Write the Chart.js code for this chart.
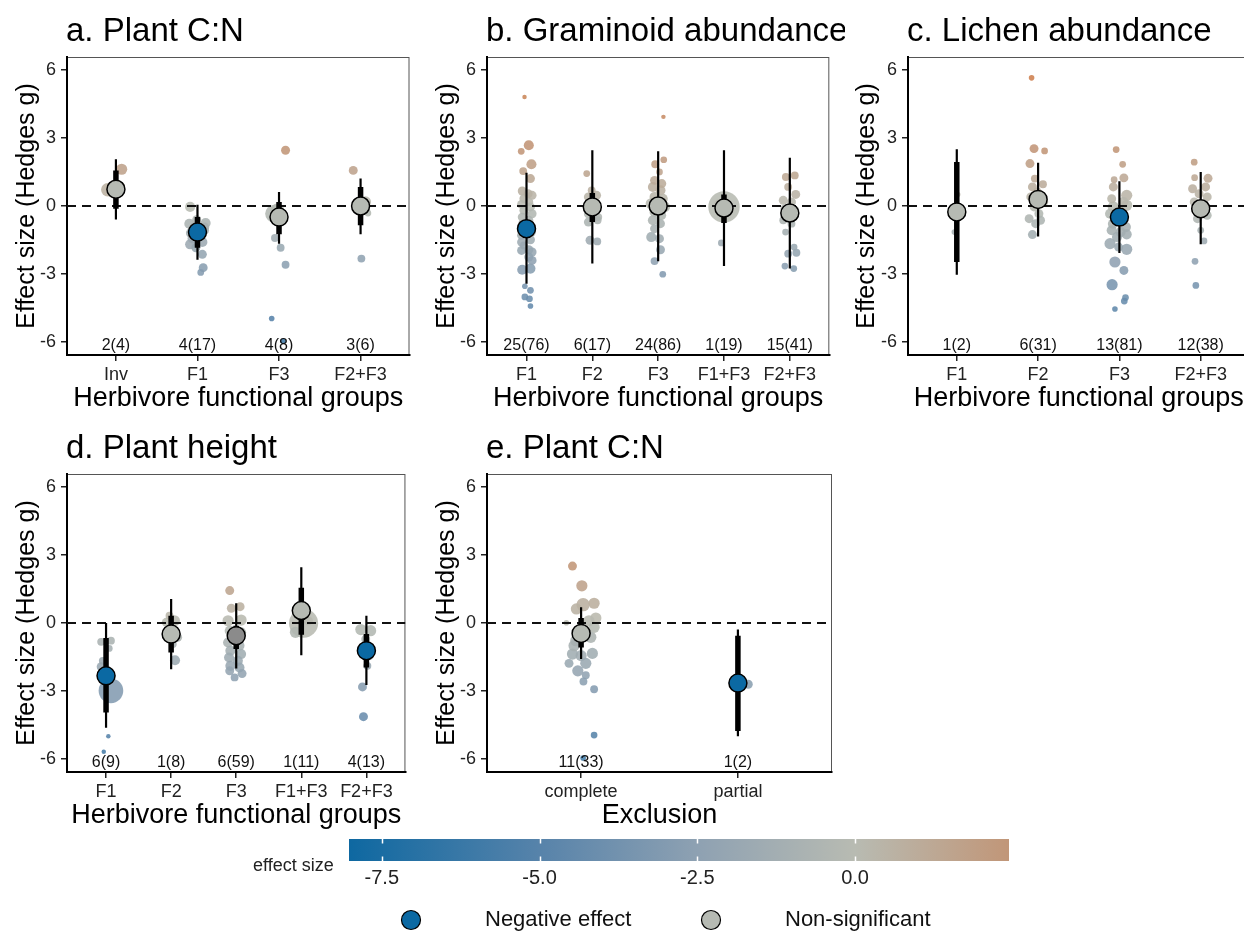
<!DOCTYPE html>
<html><head><meta charset="utf-8">
<script src="https://cdn.jsdelivr.net/npm/chart.js@4.4.1/dist/chart.umd.min.js"></script>
<style>
html,body{margin:0;padding:0;background:#fff;}
#wrap{position:relative;width:1244px;height:936px;overflow:hidden;background:#fff;}
#wrap canvas{position:absolute;}
</style></head><body>
<div id="wrap">
<canvas id="pa" width="420" height="415" style="left:0;top:0"></canvas>
<canvas id="pb" width="425" height="415" style="left:420px;top:0"></canvas>
<canvas id="pc" width="420" height="415" style="left:840px;top:0"></canvas>
<canvas id="pd" width="420" height="417" style="left:0;top:415px"></canvas>
<canvas id="pe" width="425" height="417" style="left:420px;top:415px"></canvas>
<canvas id="cbar" width="800" height="111" style="left:240px;top:825px"></canvas>
</div>
<script>
// ---------- shared ----------
const yTicks = [-6, -3, 0, 3, 6];
const yRange = [-6.57, 6.57];
const yTitle = 'Effect size (Hedges g)';
const xTitleHerb = 'Herbivore functional groups';

// ---------- a. Plant C:N ----------
const aTitle = 'a. Plant C:N';
const aCats = ['Inv', 'F1', 'F3', 'F2+F3'];
const aK = ['2(4)', '4(17)', '4(8)', '3(6)'];
const aMean = [0.74, -1.15, -0.49, 0.0];
const aCI = [[-0.12, 1.57], [-1.84, -0.49], [-1.25, 0.18], [-0.85, 0.84]];
const aPI = [[-0.60, 2.06], [-2.37, 0.06], [-1.66, 0.62], [-1.25, 1.21]];
const aSig = ['ns', 'neg', 'ns', 'ns'];
const aES = [
  [1.62, 0.72, 0.62, 0.84],
  [-0.04, -0.78, -0.75, -0.60, -1.19, -1.07, -1.37, -1.43, -1.69, -1.59, -1.84, -2.13, -2.72, -2.93, -0.93, -0.93],
  [-0.34, -0.19, 2.46, -1.41, -1.84, -2.59, -4.96, -5.96],
  [1.57, 0.18, -0.31, -2.32, -0.04, -0.19]
];
const aPrec = [
  [5, 6, 5, 5],
  [4.5, 4.5, 4.5, 4, 4.5, 4.5, 4, 4.5, 4.5, 4.5, 4, 4, 4, 3, 4, 4],
  [8, 6, 4, 3.5, 3.5, 3.5, 2.5, 2.5],
  [4, 5, 3, 3.5, 4, 4]
];
const aJit = [
  [0.07, -0.10, -0.04, 0.045],
  [-0.09, -0.10, 0.10, -0.01, -0.08, 0.08, 0.02, -0.06, -0.09, 0.06, -0.02, 0.06, 0.07, 0.04, -0.04, 0.09],
  [-0.06, -0.02, 0.08, -0.05, 0.02, 0.08, -0.09, 0.05],
  [-0.09, 0.06, 0.09, 0.01, -0.04, 0.03]
];

// ---------- b. Graminoid abundance ----------
const bTitle = 'b. Graminoid abundance';
const bCats = ['F1', 'F2', 'F3', 'F1+F3', 'F2+F3'];
const bK = ['25(76)', '6(17)', '24(86)', '1(19)', '15(41)'];
const bMean = [-1.0, -0.04, 0.0, -0.09, -0.31];
const bCI = [[-1.3, -0.7], [-0.71, 0.57], [-0.3, 0.3], [-0.75, 0.51], [-0.6, 0.0]];
const bPI = [[-3.43, 1.47], [-2.54, 2.46], [-2.44, 2.41], [-2.65, 2.46], [-2.76, 2.13]];
const bSig = ['neg', 'ns', 'ns', 'ns', 'ns'];
const bES = [
  [4.81, 2.68, 2.41, 1.84, 1.54, 1.21, 0.66, 0.47, 0.32, 0.18, 0.07, -0.04, -0.19, -0.34, -0.49, -0.63, -1.29, -1.49, -1.59, -1.93, -1.96, -2.03, -2.25, -2.40, -2.81, -2.76, -3.54, -3.72, -4.01, -4.09, -4.41, -1.74, -1.15, -0.78, 0.54],
  [1.43, 0.69, 0.40, 0.47, 0.10, -0.34, -0.49, -0.71, -0.63, -1.51, -1.56],
  [3.93, 2.04, 1.84, 1.50, 1.13, 0.99, 0.84, 0.69, 0.40, 0.32, 0.10, -0.04, -0.26, -0.41, -0.63, -0.78, -1.00, -1.37, -1.44, -1.93, -2.43, -3.01, 0.18],
  [-0.04, -1.63, 0.10, -0.19],
  [1.28, 1.35, 0.84, 0.51, 0.25, 0.18, -0.12, -0.19, -0.63, -0.78, -1.15, -1.81, -2.10, -2.06, -2.65, -2.76]
];
const bPrec = [
  [2, 4.5, 3, 4.5, 3.5, 4, 4, 4, 4, 4, 4, 4, 4, 4, 4, 4, 4, 4, 4, 4, 4, 4, 4, 4, 4.5, 4.5, 2.5, 3, 3, 3, 2.5, 3.5, 4, 3.5, 4],
  [3, 3.5, 4, 4, 4, 4, 3.5, 4, 3.5, 4, 3.5],
  [2, 3, 3.5, 3, 4, 4, 4.5, 4.5, 4.5, 4.5, 5, 5, 4.5, 4.5, 4.5, 4, 4, 4.5, 4, 4, 3.5, 3, 5],
  [14, 3, 4, 4],
  [3.5, 3.5, 3.5, 4, 4, 4, 4, 4, 3.5, 3.5, 3, 3, 3.5, 3.5, 3, 3]
];
const bJit = [
  [-0.03, 0.035, -0.08, 0.075, -0.05, 0.06, -0.065, 0.085, -0.04, 0.035, -0.075, 0.06, -0.04, 0.085, -0.065, 0.035, -0.075, 0.06, -0.075, 0.035, -0.075, 0.085, 0.035, 0.085, -0.065, 0.06, -0.025, 0.06, -0.025, 0.045, 0.06, -0.04, 0.075, -0.065, 0.025],
  [-0.085, -0.01, -0.06, 0.065, 0.015, -0.06, 0.09, -0.06, 0.08, -0.035, 0.075],
  [0.08, 0.085, -0.045, 0.02, -0.055, 0.055, -0.08, 0.035, -0.055, 0.07, -0.105, 0.095, -0.055, 0.045, -0.08, 0.035, -0.055, -0.105, 0.02, 0.035, -0.055, 0.07, 0],
  [0, -0.04, -0.08, 0.07],
  [-0.06, 0.075, -0.025, 0.09, -0.10, 0.025, -0.075, 0.075, -0.10, 0.025, -0.065, 0.065, -0.025, 0.10, -0.075, 0.06]
];

// ---------- c. Lichen abundance ----------
const cTitle = 'c. Lichen abundance';
const cCats = ['F1', 'F2', 'F3', 'F2+F3'];
const cK = ['1(2)', '6(31)', '13(81)', '12(38)'];
const cMean = [-0.26, 0.29, -0.49, -0.12];
const cCI = [[-2.47, 1.94], [0.0, 0.6], [-0.8, -0.2], [-0.4, 0.15]];
const cPI = [[-3.03, 2.5], [-1.34, 1.91], [-2.07, 1.09], [-1.69, 1.5]];
const cSig = ['ns', 'ns', 'neg', 'ns'];
const cES = [
  [0.51, -1.15],
  [5.65, 2.53, 2.43, 1.87, 1.21, 0.96, 0.84, 0.62, 0.40, 0.18, -0.04, -0.34, -0.56, -0.63, -0.78, -1.26],
  [2.49, 1.84, 1.16, 1.24, 0.84, 0.47, 0.32, 0.18, -0.04, 0.03, -0.34, -0.49, -0.78, -0.93, -1.07, -1.15, -1.37, -1.66, -1.25, -1.81, -1.91, -2.47, -2.84, -3.47, -4.04, -4.19, -4.54],
  [1.93, 1.25, 1.22, 0.76, 0.84, 0.54, 0.40, 0.18, 0.10, -0.19, -0.41, -0.56, -1.07, -1.54, -2.44, -3.50]
];
const cPrec = [
  [2.5, 2.5],
  [2.5, 4, 3, 4, 3.5, 3.5, 4, 4, 4, 4, 4, 4, 4, 4, 4, 4],
  [3, 3, 3, 4, 4, 5, 4, 4.5, 5, 5, 4.5, 4.5, 4.5, 4.5, 4.5, 4.5, 4.5, 5, 4.5, 4, 5, 5, 4, 5, 3, 3, 2.5],
  [3, 3, 4, 4, 4, 4, 4, 4, 4, 4, 4, 4, 3, 3, 3, 3]
];
const cJit = [
  [0.01, -0.03],
  [-0.08, -0.05, 0.08, -0.10, -0.04, 0.06, -0.07, -0.01, -0.09, 0.07, -0.05, 0.01, -0.11, 0.03, -0.03, -0.07],
  [-0.04, 0.04, -0.065, 0.055, -0.075, 0.09, -0.095, 0.05, -0.075, 0.09, -0.115, 0.05, -0.08, 0.08, -0.095, 0.015, -0.03, -0.115, 0.09, -0.01, 0.09, -0.055, 0.055, -0.09, 0.075, 0.06, -0.055],
  [-0.08, -0.075, 0.09, -0.10, 0.06, -0.02, 0.08, -0.08, 0.04, -0.06, 0.08, -0.04, 0, 0.04, -0.07, -0.06]
];

// ---------- d. Plant height ----------
const dTitle = 'd. Plant height';
const dCats = ['F1', 'F2', 'F3', 'F1+F3', 'F2+F3'];
const dK = ['6(9)', '1(8)', '6(59)', '1(11)', '4(13)'];
const dMean = [-2.33, -0.49, -0.56, 0.55, -1.22];
const dCI = [[-3.95, -0.66], [-1.3, 0.32], [-1.15, -0.12], [-0.52, 1.55], [-1.96, -0.49]];
const dPI = [[-4.62, 0.0], [-2.04, 1.06], [-2.01, 0.87], [-1.42, 2.46], [-2.73, 0.32]];
const dSig = ['neg', 'ns', 'ns2', 'ns', 'neg'];
const dES = [
  [-0.83, -0.78, -1.12, -1.93, -1.67, -2.99, -4.99, -5.68, -2.55],
  [0.10, 0.03, -0.63, -1.64, -0.34, -0.93, 0.32],
  [1.43, 0.65, 0.72, 0.10, 0.13, -0.34, -0.41, -0.86, -1.00, -1.22, -1.37, -1.52, -1.67, -1.89, -1.96, -2.11, -2.23, -2.40],
  [-0.01, -0.41, 0.10, 0.40],
  [-0.29, -0.34, -0.71, -1.22, -1.45, -1.89, -2.82, -4.13]
];
const dPrec = [
  [3.5, 3.5, 3, 4, 3.5, 11, 2, 2, 4],
  [5, 4, 4, 4.5, 4, 3.5, 3.5],
  [4, 4, 4, 5, 5, 4.5, 4.5, 4.5, 4.5, 4.5, 4.5, 4.5, 4.5, 4.5, 4.5, 4, 4, 3.5],
  [13, 5, 4, 4],
  [5, 5, 4, 4, 4, 3.5, 4, 4]
];
const dJit = [
  [-0.075, 0.075, 0.05, -0.075, -0.05, 0.075, 0.035, -0.035, 0],
  [0.05, -0.075, 0.10, 0.06, -0.05, 0.025, -0.025],
  [-0.10, -0.075, 0.06, -0.125, 0.075, -0.10, 0.075, -0.125, 0.05, -0.09, 0.075, -0.11, 0.025, -0.09, 0.05, -0.10, 0.09, -0.025],
  [0.035, -0.09, 0.11, -0.04],
  [-0.085, 0.065, -0.01, -0.06, 0.04, 0.015, -0.06, -0.045]
];

// ---------- e. Plant C:N by exclusion ----------
const eTitle = 'e. Plant C:N';
const eCats = ['complete', 'partial'];
const eK = ['11(33)', '1(2)'];
const eMean = [-0.46, -2.65];
const eCI = [[-1.08, 0.22], [-4.76, -0.56]];
const ePI = [[-1.59, 0.69], [-4.99, -0.29]];
const eSig = ['ns', 'neg'];
const eES = [
  [2.51, 1.64, 0.87, 0.81, 0.62, 0.22, 0.01, 0.10, -0.19, -0.78, -0.63, -1.37, -1.34, -1.44, -1.78, -1.78, -2.11, -2.30, -2.58, -2.92, -4.94, -5.95, -0.37, -1.00],
  [-2.70, -2.55]
];
const ePrec = [
  [4, 5, 5, 6, 5, 5, 2.5, 5, 5, 5, 5, 5, 5, 5, 4, 5, 5, 3.5, 3.5, 3.5, 3, 2.5, 5, 5],
  [4, 3]
];
const eJit = [
  [-0.055, 0.005, 0.083, 0.013, -0.03, 0.094, -0.094, 0.05, 0.083, -0.034, 0.062, -0.055, 0.072, 0, -0.077, 0.03, -0.021, 0.03, 0.015, 0.083, 0.083, 0.013, -0.013, -0.045],
  [0.066, 0.028]
];

// ---------- colour bar / legend ----------
const cbRange = [-8.02, 2.44];
const cbTicks = [-7.5, -5.0, -2.5, 0.0];
const cbTitle = 'effect size';
const legendLabels = ['Negative effect', 'Non-significant'];

// ---------- styling helpers ----------
const FONT = '"Liberation Sans", Arial, Helvetica, sans-serif';
Chart.defaults.font.family = FONT;
const colourStops = [
  [-8.02, [14, 104, 161]],
  [-5.0, [87, 131, 170]],
  [-2.5, [142, 161, 178]],
  [0.0, [184, 187, 178]],
  [2.44, [193, 150, 120]],
  [5.7, [206, 128, 78]]
];
function esRGB(v) {
  if (v <= colourStops[0][0]) return colourStops[0][1];
  for (let i = 1; i < colourStops.length; i++) {
    const [v1, c1] = colourStops[i];
    const [v0, c0] = colourStops[i - 1];
    if (v <= v1) {
      const t = (v - v0) / (v1 - v0);
      return c0.map((c, k) => Math.round(c + (c1[k] - c) * t));
    }
  }
  return colourStops[colourStops.length - 1][1];
}
function esColour(v, a) {
  const c = esRGB(v);
  return `rgba(${c[0]},${c[1]},${c[2]},${a})`;
}
const sigColour = { neg: '#0b69a3', ns: '#b6bab3', ns2: '#8b8b8b' };
const R_SCALE = 1.12;

const panelDeco = {
  id: 'panelDeco',
  beforeDraw(chart, args, o) {
    const { ctx, chartArea: ca } = chart;
    ctx.save();
    ctx.strokeStyle = '#555';
    ctx.lineWidth = 1;
    ctx.strokeRect(ca.left + 0.5, ca.top + 0.5, ca.right - ca.left - 1, ca.bottom - ca.top);
    ctx.restore();
  },
  afterDraw(chart, args, o) {
    const { ctx, chartArea: ca, scales } = chart;
    ctx.save();
    ctx.fillStyle = '#000';
    ctx.font = '33px ' + FONT;
    ctx.textAlign = 'left';
    ctx.textBaseline = 'alphabetic';
    ctx.fillText(o.title, ca.left - 1, ca.top - 16);
    ctx.font = '16px ' + FONT;
    ctx.fillStyle = '#111';
    ctx.textAlign = 'center';
    const yb = scales.y.getPixelForValue(-6.33);
    o.k.forEach((t, i) => ctx.fillText(t, scales.x.getPixelForValue(i + 1), yb));
    ctx.restore();
  }
};

function buildPanel(id, P) {
  const n = P.cats.length;
  const pts = [];
  P.es.forEach((arr, i) => arr.forEach((v, j) => {
    pts.push({ x: i + 1 + (P.jit[i][j] || 0), y: v, r: P.prec[i][j] || 4 });
  }));
  pts.sort((a, b) => b.r - a.r);
  const thin = [], thick = [];
  P.pi.forEach((c, i) => thin.push({ x: i + 1, y: c[0] }, { x: i + 1, y: c[1] }, { x: i + 1, y: null }));
  P.ci.forEach((c, i) => thick.push({ x: i + 1, y: c[0] }, { x: i + 1, y: c[1] }, { x: i + 1, y: null }));
  const means = P.mean.map((m, i) => ({ x: i + 1, y: m }));
  new Chart(document.getElementById(id), {
    type: 'scatter',
    data: {
      datasets: [
        { data: pts, pointRadius: c => c.raw ? c.raw.r * R_SCALE : 3, pointBackgroundColor: c => c.raw ? esColour(c.raw.y, 0.88) : '#999',
          pointBorderWidth: 0, pointHoverRadius: c => c.raw ? c.raw.r * R_SCALE : 3, order: 5 },
        { type: 'line', data: [{ x: 0.4, y: 0 }, { x: n + 0.6, y: 0 }], borderColor: '#111', borderWidth: 2,
          borderDash: [9, 6], pointRadius: 0, fill: false, tension: 0, order: 4 },
        { type: 'line', data: thin, borderColor: '#000', borderWidth: 2.2, pointRadius: 0, spanGaps: false,
          fill: false, tension: 0, borderCapStyle: 'butt', order: 3 },
        { type: 'line', data: thick, borderColor: '#000', borderWidth: 5.5, pointRadius: 0, spanGaps: false,
          fill: false, tension: 0, borderCapStyle: 'butt', order: 2 },
        { data: means, pointRadius: 9, pointHoverRadius: 9, pointBackgroundColor: P.sig.map(s => sigColour[s]),
          pointBorderColor: '#000', pointBorderWidth: 1.5, order: 1 }
      ]
    },
    options: {
      responsive: false, animation: false, events: [],
      layout: { padding: { top: P.padTop, right: P.padRight, left: 0, bottom: 0 } },
      plugins: { legend: { display: false }, tooltip: { enabled: false },
        panelDeco: { title: P.title, k: P.k } },
      scales: {
        x: {
          type: 'linear', min: 0.4, max: n + 0.6,
          afterBuildTicks: s => { s.ticks = P.cats.map((c, i) => ({ value: i + 1 })); },
          afterFit: s => { s.height = P.xH; },
          ticks: { callback: (v, i) => P.cats[i], autoSkip: false, maxRotation: 0, padding: 3,
            font: { size: 18 }, color: '#222' },
          grid: { display: true, drawOnChartArea: false, drawTicks: true, tickLength: 6, color: '#222', lineWidth: 1.5 },
          border: { display: true, color: '#000', width: 2 },
          title: { display: true, text: P.xTitle, font: { size: 27 }, color: '#000', padding: { top: 0, bottom: 0 } }
        },
        y: {
          type: 'linear', min: yRange[0], max: yRange[1],
          afterBuildTicks: s => { s.ticks = yTicks.map(v => ({ value: v })); },
          afterFit: s => { s.width = P.yW; },
          ticks: { callback: v => String(v), padding: 5, font: { size: 18 }, color: '#222' },
          grid: { display: true, drawOnChartArea: false, drawTicks: true, tickLength: 6, color: '#222', lineWidth: 1.5 },
          border: { display: true, color: '#000', width: 2 },
          title: { display: true, text: yTitle, font: { size: 25 }, color: '#000', padding: { top: 12, bottom: 0 } }
        }
      }
    },
    plugins: [panelDeco]
  });
}

buildPanel('pa', { title: aTitle, cats: aCats, k: aK, mean: aMean, ci: aCI, pi: aPI, sig: aSig, es: aES, prec: aPrec, jit: aJit,
  xTitle: xTitleHerb, padTop: 57, padRight: 8, yW: 67, xH: 60 });
buildPanel('pb', { title: bTitle, cats: bCats, k: bK, mean: bMean, ci: bCI, pi: bPI, sig: bSig, es: bES, prec: bPrec, jit: bJit,
  xTitle: xTitleHerb, padTop: 57, padRight: 13, yW: 67, xH: 60 });
buildPanel('pc', { title: cTitle, cats: cCats, k: cK, mean: cMean, ci: cCI, pi: cPI, sig: cSig, es: cES, prec: cPrec, jit: cJit,
  xTitle: xTitleHerb, padTop: 57, padRight: 7, yW: 68, xH: 60 });
buildPanel('pd', { title: dTitle, cats: dCats, k: dK, mean: dMean, ci: dCI, pi: dPI, sig: dSig, es: dES, prec: dPrec, jit: dJit,
  xTitle: xTitleHerb, padTop: 59, padRight: 8, yW: 67, xH: 60 });
buildPanel('pe', { title: eTitle, cats: eCats, k: eK, mean: eMean, ci: eCI, pi: ePI, sig: eSig, es: eES, prec: ePrec, jit: eJit,
  xTitle: 'Exclusion', padTop: 59, padRight: 13, yW: 67, xH: 60 });

// ---------- colour bar + legend ----------
const cbDeco = {
  id: 'cbDeco',
  afterDatasetsDraw(chart) {
    const { ctx, chartArea: ca, scales } = chart;
    ctx.save();
    ctx.strokeStyle = '#fff';
    ctx.lineWidth = 1.5;
    cbTicks.forEach(v => {
      const x = Math.round(scales.x.getPixelForValue(v)) + 0.5;
      ctx.beginPath();
      ctx.moveTo(x, ca.top); ctx.lineTo(x, ca.top + 4.5);
      ctx.moveTo(x, ca.bottom - 4.5); ctx.lineTo(x, ca.bottom);
      ctx.stroke();
    });
    ctx.restore();
  },
  afterDraw(chart) {
    const { ctx } = chart;
    ctx.save();
    ctx.fillStyle = '#222';
    ctx.font = '18px ' + FONT;
    ctx.textAlign = 'left';
    ctx.textBaseline = 'middle';
    ctx.fillText(cbTitle, 13, 41);
    const items = [[171, sigColour.neg], [471, sigColour.ns]];
    items.forEach(([cx, col], i) => {
      ctx.beginPath();
      ctx.arc(cx, 95, 9.5, 0, Math.PI * 2);
      ctx.fillStyle = col; ctx.fill();
      ctx.lineWidth = 1.2; ctx.strokeStyle = '#000'; ctx.stroke();
      ctx.fillStyle = '#111';
      ctx.font = '22px ' + FONT;
      ctx.fillText(legendLabels[i], cx + 74, 95);
    });
    ctx.restore();
  }
};

new Chart(document.getElementById('cbar'), {
  type: 'bar',
  data: {
    labels: [cbTitle],
    datasets: [{
      data: [cbRange],
      backgroundColor: c => {
        const ch = c.chart, ca = ch.chartArea;
        if (!ca) return '#aaa';
        const xs = ch.scales.x;
        const g = ch.ctx.createLinearGradient(ca.left, 0, ca.right, 0);
        colourStops.forEach(([v, col]) => {
          if (v > cbRange[1]) return;
          const t = Math.min(1, Math.max(0, (xs.getPixelForValue(v) - ca.left) / (ca.right - ca.left)));
          g.addColorStop(t, `rgb(${col[0]},${col[1]},${col[2]})`);
        });
        return g;
      },
      borderWidth: 0, barPercentage: 1, categoryPercentage: 1
    }]
  },
  options: {
    indexAxis: 'y', responsive: false, animation: false, events: [],
    layout: { padding: { left: 109, right: 31, top: 14, bottom: 0 } },
    plugins: { legend: { display: false }, tooltip: { enabled: false } },
    scales: {
      y: { display: false },
      x: {
        type: 'linear', min: cbRange[0], max: cbRange[1],
        afterBuildTicks: s => { s.ticks = cbTicks.map(v => ({ value: v })); },
        afterFit: s => { s.height = 75; },
        ticks: { callback: v => v.toFixed(1), padding: 5, font: { size: 20 }, color: '#222', maxRotation: 0, autoSkip: false },
        grid: { display: false, drawTicks: false },
        border: { display: false }
      }
    }
  },
  plugins: [cbDeco]
});
</script>
</body></html>
